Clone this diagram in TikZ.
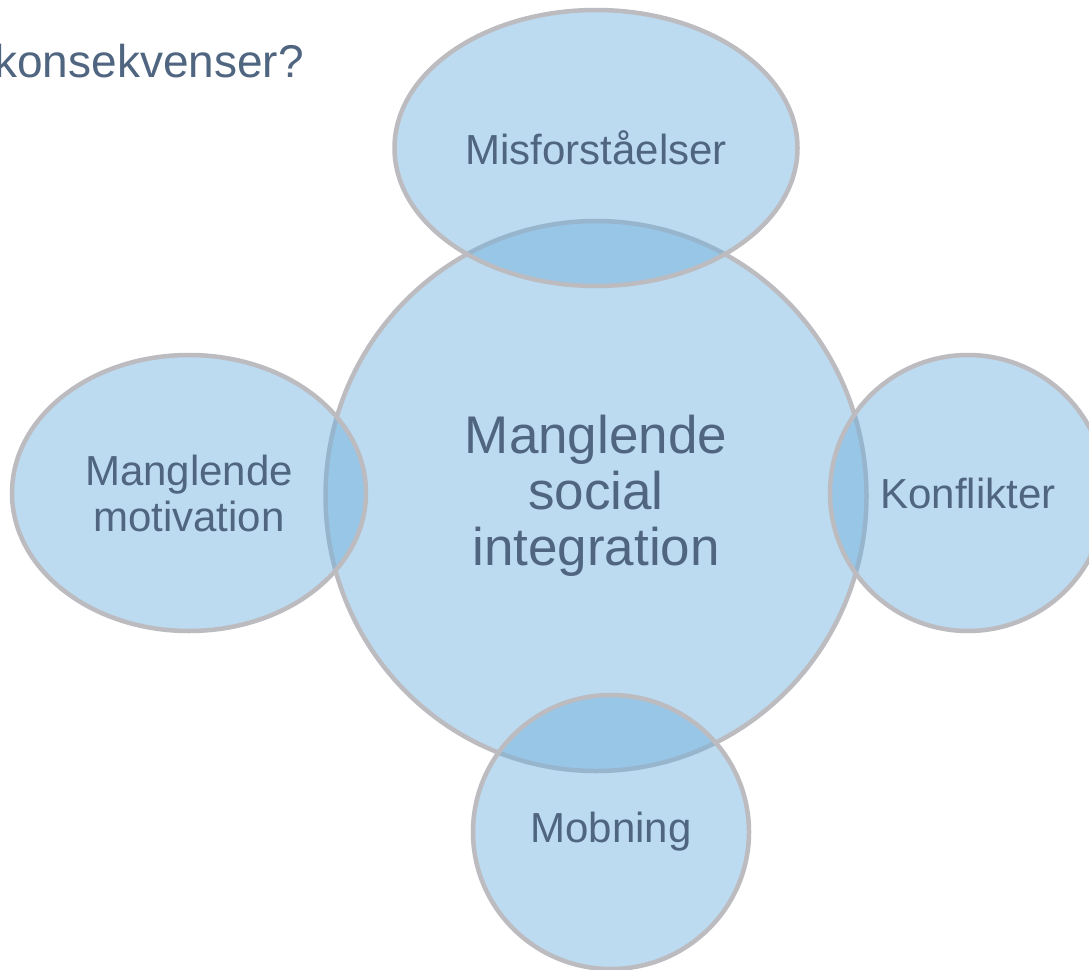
\documentclass[tikz,border=0pt]{standalone}
\usepackage{fontspec}
\setmainfont{Liberation Sans}
\usetikzlibrary{shapes.geometric}
\definecolor{bubfill}{RGB}{108,175,222}
\definecolor{bubline}{RGB}{188,188,192}
\definecolor{txt}{RGB}{79,101,128}
\tikzset{
  bubble/.style={ellipse, inner sep=0pt, fill=bubfill, draw=bubline, line width=4.5pt,
    fill opacity=0.45, draw opacity=1, text opacity=1, text=txt, align=center},
  small/.style={font=\fontsize{42}{46}\selectfont},
  big/.style={font=\fontsize{53}{56}\selectfont}
}
\begin{document}
\begin{tikzpicture}[x=1pt,y=-1pt]
\useasboundingbox (0,0) rectangle (1089,969);
\fill[white] (0,0) rectangle (1089,969);
\node[anchor=base east, inner sep=0pt, text=txt, font=\fontsize{46}{50}\selectfont] (title) at (304,77) {konsekvenser?};
\node[bubble, big, minimum width=541pt, minimum height=550pt] (center) at (596,496) {Manglende\\social\\integration};
\node[bubble, small, minimum width=403pt, minimum height=276pt] (top) at (596,148) {Misforståelser};
\node[bubble, small, minimum width=354pt, minimum height=276pt] (left) at (189,493) {Manglende\\motivation};
\node[bubble, small, minimum width=276pt, minimum height=276pt] (right) at (968,493) {Konflikter};
\node[bubble, small, minimum width=276pt, minimum height=274pt] (bottom) at (611,832) {Mobning};
\end{tikzpicture}
\end{document}
